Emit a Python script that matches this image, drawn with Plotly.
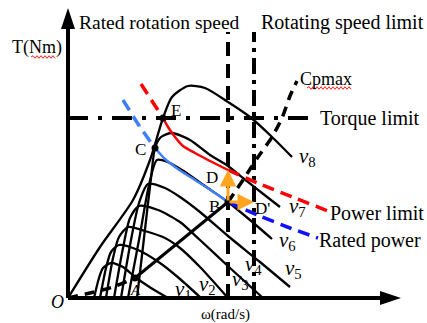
import plotly.graph_objects as go

# ---------------- data (omega in px-like units from origin, T upward) -------------
v1_w = [26, 31, 35, 43, 55, 67, 83, 100]
v1_T = [0, 20, 30, 35, 31, 21, 10, 0]
v2_w = [32, 38, 43, 51, 70, 92, 112, 133]
v2_T = [0, 30, 46, 53, 48, 35, 19, 0]
v3_w = [38, 45, 51, 60, 77, 97, 112, 132, 160]
v3_T = [0, 40, 61, 71, 67, 60, 50, 31, 0]
v4_w = [46, 55, 62, 71, 90, 112, 132, 162, 195]
v4_T = [0, 50, 80, 92, 88, 76, 58, 30, 0]
v5_w = [53, 63, 71, 80, 97, 112, 132, 160, 192, 222]
v5_T = [0, 58, 95, 114, 110, 101, 86, 62, 36, 11]
v6_w = [60, 71, 81, 89, 102, 117, 137, 160, 182, 204]
v6_T = [0, 58, 113, 138, 135, 126, 112, 96, 78, 59]
v7_w = [69, 76, 83, 87, 93, 104, 122, 142, 160, 175, 194, 212]
v7_T = [0, 60, 120, 150, 161, 165, 158, 143, 132, 120, 105, 91]
v8_w = [0, 32, 65, 82, 95, 104, 120, 137, 160, 182, 202, 224]
v8_T = [0, 51, 98, 138, 180, 201, 212, 210, 196, 181, 163, 141]

cp_low_w = [0, 22, 45, 67]
cp_low_T = [0, 5, 11, 20]
cp_mid_w = [67, 160]
cp_mid_T = [20, 96]
cp_up_w = [160, 175, 190, 204, 214, 222, 229]
cp_up_T = [96, 118, 141, 161, 180, 202, 217]

red_d1_w = [73, 95]
red_d1_T = [214, 180]
red_s_w = [95, 100, 107, 115, 127, 142, 160]
red_s_T = [180, 171, 161, 152, 145, 137, 128]
red_d2_w = [160, 192, 227, 260]
red_d2_T = [128, 114, 100, 87]

blue_d1_w = [55, 72, 87]
blue_d1_T = [198, 171, 150]
blue_s_w = [87, 97, 110, 127, 144, 160]
blue_s_T = [150, 139, 129, 118, 107, 96]
blue_d2_w = [160, 192, 222, 250]
blue_d2_T = [96, 82, 70, 60]

torque_limit = 180
rated_speed = 160
speed_limit = 186
line_top = 266

pt_names = ["A", "C", "E", "B"]
pt_w = [67, 87, 95, 160]
pt_T = [20, 150, 180, 96]
D_point = (160, 128)
Dp_point = (186, 96)

SERIF = "Liberation Serif, Times New Roman, serif"

fig = go.Figure()

def add_line(w, T, color="black", width=2.2, dash="solid", shape="spline"):
    fig.add_trace(go.Scatter(x=w, y=T, mode="lines",
                             line=dict(color=color, width=width, dash=dash, shape=shape,
                                       smoothing=0.7 if shape == "spline" else None),
                             hoverinfo="skip", showlegend=False))

# reference lines
add_line([0, 248], [torque_limit, torque_limit], width=4, dash="20px,10px,4px,10px", shape="linear")
add_line([rated_speed, rated_speed], [0, line_top], width=4, dash="14px,8px", shape="linear")
add_line([speed_limit, speed_limit], [0, line_top], width=4, dash="16px,6px,4px,6px", shape="linear")

# wind speed curves
for w, T in [(v1_w, v1_T), (v2_w, v2_T), (v3_w, v3_T), (v4_w, v4_T),
             (v5_w, v5_T), (v6_w, v6_T), (v7_w, v7_T), (v8_w, v8_T)]:
    add_line(w, T, width=2.3)

# power limit (red)
add_line(red_d1_w, red_d1_T, color="#FF0000", width=3.5, dash="12px,7px")
add_line(red_s_w, red_s_T, color="#FF0000", width=2.5)
add_line(red_d2_w, red_d2_T, color="#FF0000", width=3.5, dash="12px,7px")
# rated power (blue)
add_line(blue_d1_w, blue_d1_T, color="#3F7FFF", width=3.5, dash="12px,7px")
add_line(blue_s_w, blue_s_T, color="#3F7FFF", width=2.5)
add_line(blue_d2_w, blue_d2_T, color="#1010FF", width=3.5, dash="12px,7px")
# Cpmax
add_line(cp_low_w, cp_low_T, width=3.5, dash="10px,7px")
add_line(cp_mid_w, cp_mid_T, width=3, shape="linear")
add_line(cp_up_w, cp_up_T, width=3.5, dash="10px,7px")

# points
fig.add_trace(go.Scatter(x=pt_w, y=pt_T, mode="markers",
                         marker=dict(color="black", size=7),
                         hoverinfo="skip", showlegend=False))

ann = []
# orange arrows
for tx, ty in [D_point, Dp_point]:
    ann.append(dict(x=tx, y=ty, ax=pt_w[3], ay=pt_T[3], xref="x", yref="y",
                    axref="x", ayref="y", showarrow=True, arrowhead=2,
                    arrowsize=1.1, arrowwidth=3, arrowcolor="#FFA51F", text=""))

def txt(s, x, y, size=20, xanchor="left", italic=False):
    if italic:
        s = "<i>" + s + "</i>"
    ann.append(dict(x=x, y=y, xref="x", yref="y", text=s, showarrow=False,
                    xanchor=xanchor, yanchor="middle",
                    font=dict(family=SERIF, size=size, color="black")))

txt("Rated rotation speed", 9, 276, size=19.5)
txt("Rotating speed limit", 191, 276, size=20)
txt("T(Nm)", -31, 251, size=18, xanchor="center")
txt("Torque limit", 250, 180, size=20)
txt("Cpmax", 230, 219, size=18)
txt("Power limit", 260, 85, size=20)
txt("Rated power", 249, 58, size=20)
txt("O", -11, -4, size=18, xanchor="center", italic=True)
txt("ω(rad/s)", 157, -16, size=15, xanchor="center")
txt("E", 108, 188, size=17, xanchor="center")
txt("C", 72, 149, size=17, xanchor="center")
txt("D", 144, 121, size=17, xanchor="center")
txt("B", 146, 92, size=17, xanchor="center")
txt("D'", 194, 90, size=17, xanchor="center")
txt("A", 67, 8, size=15, xanchor="center", italic=True)

v_labels = ["1", "2", "3", "4", "5", "6", "7", "8"]
v_lab_w = [105, 129, 162, 175, 215, 209, 219, 229]
v_lab_T = [8, 13, 18, 33, 29, 57, 91, 141]
for n, x, y in zip(v_labels, v_lab_w, v_lab_T):
    txt("<i>v</i><sub>" + n + "</sub>", x, y, size=21)

shapes = [
    dict(type="line", x0=0, y0=0, x1=315, y1=0, line=dict(color="black", width=4)),
    dict(type="line", x0=0, y0=0, x1=0, y1=272, line=dict(color="black", width=4)),
    dict(type="path", path="M 333 0 L 312 -7 L 312 7 Z", fillcolor="black", line=dict(width=0)),
    dict(type="path", path="M 0 290 L -7 269 L 7 269 Z", fillcolor="black", line=dict(width=0)),
]
# spell-check squiggles under "Nm" and "pmax"
def squiggle(x0, x1, y):
    p = "M %g %g" % (x0, y)
    x = x0
    up = True
    while x < x1:
        x += 2
        p += " L %g %g" % (x, y + (1.3 if up else -1.3))
        up = not up
    return dict(type="path", path=p, line=dict(color="#FF2020", width=1))
shapes.append(squiggle(-37, -13, 241))
shapes.append(squiggle(239, 282, 210))

fig.update_layout(
    width=427, height=323, margin=dict(l=0, r=0, t=0, b=0),
    paper_bgcolor="white", plot_bgcolor="white",
    xaxis=dict(range=[-68, 359], visible=False, fixedrange=True),
    yaxis=dict(range=[-25, 298], visible=False, fixedrange=True),
    annotations=ann, shapes=shapes, showlegend=False,
)

fig.write_html("out.html", config={"displayModeBar": False},
               post_script="document.body.style.margin='0';document.body.style.overflow='hidden';")
